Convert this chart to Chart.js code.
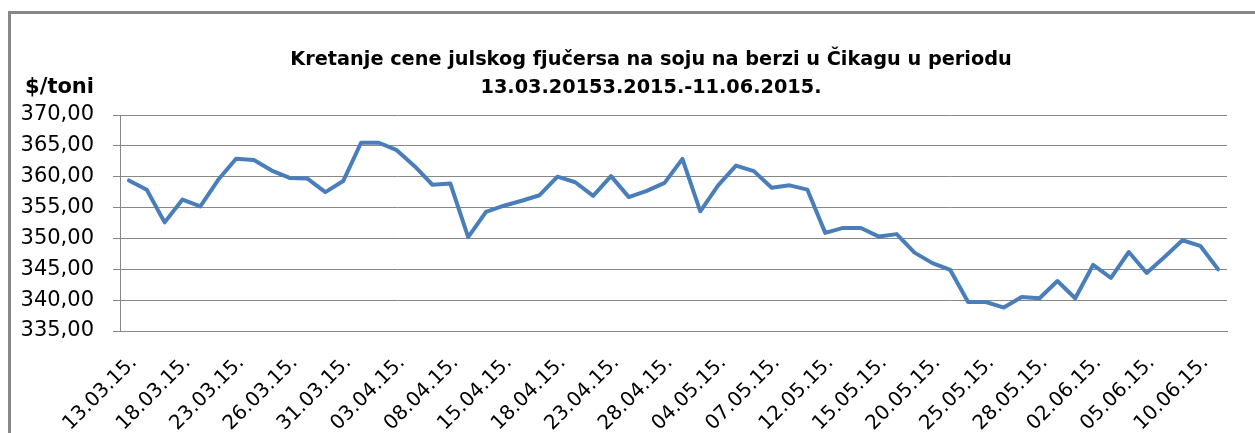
<!DOCTYPE html>
<html>
<head>
<meta charset="utf-8">
<script src="https://cdn.jsdelivr.net/npm/chart.js@4.4.1/dist/chart.umd.min.js"></script>
<style>
  html, body { margin: 0; padding: 0; background: #ffffff; }
  #wrap { width: 1255px; height: 433px; position: relative; }
</style>
</head>
<body>
<div id="wrap"><canvas id="c" width="1255" height="433"></canvas></div>
<script>
const titleLines = ["Kretanje cene julskog fjučersa na soju na berzi u Čikagu u periodu", "13.03.20153.2015.-11.06.2015."];
const yAxisTitle = "$/toni";

const dates = [
  "13.03.15.", "16.03.15.", "17.03.15.", "18.03.15.", "19.03.15.", "20.03.15.",
  "23.03.15.", "24.03.15.", "25.03.15.", "26.03.15.", "27.03.15.", "30.03.15.",
  "31.03.15.", "01.04.15.", "02.04.15.", "03.04.15.", "06.04.15.", "07.04.15.",
  "08.04.15.", "09.04.15.", "13.04.15.", "15.04.15.", "16.04.15.", "17.04.15.",
  "18.04.15.", "21.04.15.", "22.04.15.", "23.04.15.", "24.04.15.", "27.04.15.",
  "28.04.15.", "29.04.15.", "30.04.15.", "04.05.15.", "05.05.15.", "06.05.15.",
  "07.05.15.", "08.05.15.", "11.05.15.", "12.05.15.", "13.05.15.", "14.05.15.",
  "15.05.15.", "18.05.15.", "19.05.15.", "20.05.15.", "21.05.15.", "22.05.15.",
  "25.05.15.", "26.05.15.", "27.05.15.", "28.05.15.", "29.05.15.", "01.06.15.",
  "02.06.15.", "03.06.15.", "04.06.15.", "05.06.15.", "08.06.15.", "09.06.15.",
  "10.06.15.", "11.06.15."
];

const prices = [
  359.4, 357.9, 352.6, 356.3, 355.2, 359.5,
  362.9, 362.7, 361.0, 359.8, 359.7, 357.5,
  359.3, 365.5, 365.5, 364.3, 361.7, 358.7,
  358.9, 350.2, 354.3, 355.3, 356.1, 357.0,
  360.0, 359.1, 356.9, 360.1, 356.7, 357.7,
  359.0, 362.9, 354.4, 358.6, 361.8, 360.9,
  358.2, 358.6, 357.9, 350.9, 351.7, 351.7,
  350.3, 350.7, 347.7, 346.0, 344.9, 339.7,
  339.7, 338.8, 340.5, 340.3, 343.1, 340.3,
  345.7, 343.6, 347.8, 344.4, 347.0, 349.7,
  348.8, 345.0
];

const yMin = 335, yMax = 370, yStep = 5;
const labelEvery = 3;

const frame = {
  id: 'frame',
  beforeDraw(chart) {
    const ctx = chart.ctx;
    ctx.save();
    ctx.fillStyle = '#ffffff';
    ctx.fillRect(0, 0, chart.width, chart.height);
    ctx.strokeStyle = '#888888';
    ctx.lineWidth = 3;
    ctx.strokeRect(9.5, 12.5, 1400, 600);
    ctx.restore();
  },
  afterDraw(chart) {
    const ctx = chart.ctx;
    ctx.save();
    ctx.fillStyle = '#000000';
    ctx.textBaseline = 'middle';
    ctx.font = 'bold 19.3px "DejaVu Sans"';
    ctx.textAlign = 'center';
    ctx.fillText(titleLines[0], 651, 60);
    ctx.fillText(titleLines[1], 651, 88);
    ctx.font = 'bold 21px "DejaVu Sans"';
    ctx.textAlign = 'right';
    ctx.fillText(yAxisTitle, 94, 88);
    ctx.restore();
  }
};

new Chart(document.getElementById('c'), {
  type: 'line',
  data: {
    labels: dates,
    datasets: [{
      data: prices,
      borderColor: '#4A7EBB',
      borderWidth: 4,
      pointRadius: 0,
      pointHoverRadius: 0,
      tension: 0,
      fill: false,
      borderJoinStyle: 'round',
      borderCapStyle: 'round'
    }]
  },
  options: {
    responsive: false,
    animation: false,
    events: [],
    layout: { padding: { left: 10, right: 28, top: 115, bottom: 0 } },
    plugins: {
      legend: { display: false },
      tooltip: { enabled: false },
      title: { display: false }
    },
    scales: {
      x: {
        offset: true,
        grid: { display: false, drawTicks: false },
        border: { display: true, color: '#878787', width: 1 },
        ticks: {
          autoSkip: false,
          minRotation: 45,
          maxRotation: 45,
          padding: 20,
          labelOffset: 5,
          color: '#000000',
          font: { family: '"DejaVu Sans"', size: 20 },
          callback: function(v, i) { return i % labelEvery === 0 ? this.getLabelForValue(v) : ''; }
        },
        afterFit(s) { s.height = 102; s.paddingLeft = 0; s.paddingRight = 0; }
      },
      y: {
        min: yMin,
        max: yMax,
        grid: { color: '#878787', lineWidth: 1, tickLength: 7, drawTicks: true, tickColor: '#878787' },
        border: { display: true, color: '#878787', width: 1 },
        ticks: {
          stepSize: yStep,
          padding: 19,
          color: '#000000',
          font: { family: '"DejaVu Sans"', size: 21 },
          callback: v => v.toFixed(2).replace('.', ',')
        },
        afterFit(s) { s.width = 110; }
      }
    }
  },
  plugins: [frame]
});
</script>
</body>
</html>
